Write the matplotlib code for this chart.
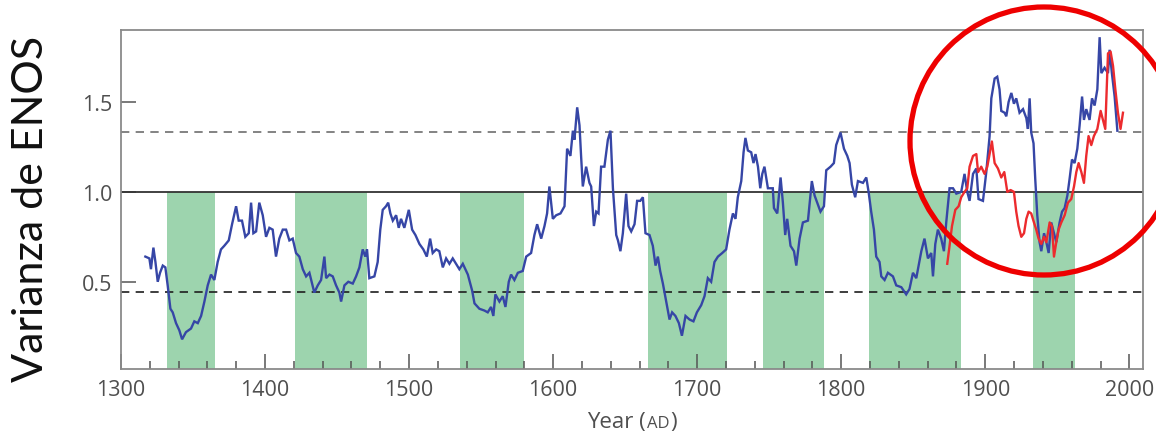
import matplotlib
matplotlib.use("Agg")
import matplotlib.pyplot as plt
import numpy as np
from matplotlib.patches import Ellipse
from matplotlib.offsetbox import TextArea, HPacker, AnchoredOffsetbox
from matplotlib.ticker import MultipleLocator

# ---------------- data ----------------
blue_years = [1316.9, 1319.7, 1320.8, 1322.5, 1323.9, 1325.5, 1327.1, 1329.0, 1330.8, 1332.4,
              1334.3, 1335.9, 1338.2, 1340.5, 1342.4, 1345.1, 1348.6, 1350.9, 1353.3, 1355.6,
              1357.9, 1360.2, 1362.5, 1364.8, 1367.1, 1369.4, 1371.7, 1374.8, 1377.1, 1379.9,
              1381.7, 1384.0, 1386.3, 1388.7, 1390.3, 1391.9, 1393.8, 1396.0, 1398.4, 1400.7,
              1403.0, 1405.3, 1407.6, 1409.9, 1412.3, 1414.6, 1416.9, 1419.2, 1421.5, 1423.8,
              1426.2, 1428.5, 1430.8, 1434.2, 1436.6, 1438.9, 1441.2, 1442.4, 1444.7, 1447.0,
              1449.3, 1451.6, 1452.8, 1455.1, 1457.8, 1460.9, 1463.2, 1465.5, 1467.8, 1469.6,
              1470.8, 1472.4, 1475.9, 1478.2, 1480.0, 1481.7, 1484.0, 1485.5, 1487.0, 1488.7,
              1491.0, 1492.8, 1494.4, 1496.7, 1499.8, 1502.1, 1504.4, 1507.2, 1509.9, 1512.3,
              1514.6, 1516.4, 1518.8, 1521.0, 1523.4, 1525.7, 1528.0, 1530.3, 1532.6, 1534.9,
              1537.3, 1540.8, 1543.8, 1545.4, 1548.8, 1552.3, 1554.6, 1556.9, 1558.5, 1559.9,
              1562.7, 1565.0, 1566.9, 1569.2, 1570.8, 1573.1, 1575.5, 1578.9, 1581.3, 1584.7,
              1587.0, 1588.9, 1591.7, 1594.0, 1595.8, 1597.4, 1599.8, 1602.1, 1605.1, 1607.9,
              1609.7, 1612.0, 1613.7, 1614.8, 1616.7, 1618.3, 1619.4, 1620.6, 1622.9, 1625.2,
              1626.4, 1628.3, 1629.9, 1631.5, 1633.3, 1635.6, 1638.0, 1639.8, 1641.5, 1643.8,
              1645.0, 1646.7, 1648.4, 1650.7, 1652.3, 1654.2, 1656.5, 1658.3, 1660.5, 1662.3,
              1664.1, 1666.9, 1669.2, 1671.1, 1672.7, 1674.3, 1676.2, 1678.5, 1680.8, 1682.6,
              1684.9, 1687.3, 1689.4, 1691.9, 1694.7, 1697.4, 1699.8, 1702.8, 1705.1, 1707.4,
              1709.7, 1712.0, 1714.4, 1717.4, 1720.1, 1722.4, 1724.8, 1726.6, 1728.2, 1730.6,
              1732.2, 1733.5, 1735.2, 1737.5, 1739.1, 1740.5, 1742.2, 1743.8, 1745.2, 1746.7,
              1749.1, 1752.5, 1753.3, 1755.6, 1757.9, 1759.5, 1761.1, 1762.5, 1764.8, 1767.2,
              1768.8, 1771.1, 1773.4, 1776.9, 1779.6, 1781.5, 1783.8, 1785.6, 1788.0, 1789.6,
              1792.6, 1794.9, 1796.5, 1799.5, 1801.9, 1804.2, 1805.8, 1807.4, 1809.7, 1811.6,
              1815.1, 1817.4, 1819.0, 1820.8, 1822.7, 1824.3, 1826.6, 1827.8, 1830.1, 1832.4,
              1835.9, 1838.2, 1841.7, 1845.1, 1847.4, 1849.8, 1852.1, 1855.6, 1857.8, 1860.2,
              1862.5, 1863.7, 1865.3, 1867.1, 1869.4, 1871.3, 1872.9, 1875.2, 1877.6, 1879.9,
              1883.3, 1885.6, 1887.5, 1889.1, 1891.5, 1893.8, 1895.3, 1898.4, 1900.7, 1903.0,
              1904.2, 1906.5, 1908.3, 1909.9, 1911.1, 1913.4, 1914.6, 1916.2, 1918.1, 1919.9,
              1921.5, 1923.8, 1926.2, 1928.5, 1929.6, 1930.8, 1931.9, 1933.5, 1934.7, 1936.1,
              1937.7, 1938.9, 1940.8, 1942.4, 1944.0, 1945.8, 1947.7, 1949.3, 1951.6, 1953.3,
              1955.1, 1957.0, 1958.5, 1960.2, 1962.0, 1963.9, 1965.5, 1967.2, 1968.5, 1970.1,
              1972.4, 1974.1, 1975.9, 1977.8, 1979.4, 1980.6, 1982.8, 1985.2, 1986.3, 1987.9,
              1989.8, 1991.7]
blue_values = [0.64, 0.63, 0.57, 0.69, 0.61, 0.50, 0.55, 0.59, 0.58, 0.48,
               0.35, 0.33, 0.27, 0.23, 0.18, 0.22, 0.24, 0.28, 0.27, 0.31,
               0.39, 0.48, 0.54, 0.51, 0.61, 0.68, 0.70, 0.73, 0.82, 0.92,
               0.84, 0.84, 0.75, 0.77, 0.94, 0.77, 0.78, 0.94, 0.87, 0.75,
               0.80, 0.79, 0.64, 0.74, 0.79, 0.79, 0.73, 0.74, 0.66, 0.64,
               0.57, 0.53, 0.55, 0.44, 0.48, 0.51, 0.64, 0.52, 0.54, 0.53,
               0.48, 0.44, 0.39, 0.48, 0.50, 0.49, 0.53, 0.58, 0.68, 0.64,
               0.68, 0.52, 0.53, 0.61, 0.79, 0.90, 0.92, 0.94, 0.88, 0.84,
               0.87, 0.80, 0.85, 0.80, 0.90, 0.79, 0.76, 0.71, 0.68, 0.64,
               0.74, 0.66, 0.68, 0.67, 0.58, 0.63, 0.60, 0.63, 0.60, 0.57,
               0.60, 0.54, 0.45, 0.38, 0.35, 0.34, 0.33, 0.36, 0.31, 0.43,
               0.39, 0.42, 0.36, 0.50, 0.54, 0.51, 0.55, 0.56, 0.64, 0.66,
               0.76, 0.82, 0.74, 0.81, 0.88, 1.03, 0.85, 0.87, 0.88, 0.92,
               1.24, 1.20, 1.34, 1.29, 1.47, 1.37, 1.20, 1.03, 1.14, 1.05,
               1.03, 0.81, 0.89, 0.88, 1.14, 1.14, 1.29, 1.34, 1.02, 0.76,
               0.73, 0.67, 0.77, 0.99, 0.81, 0.78, 0.82, 0.95, 0.95, 0.97,
               0.77, 0.76, 0.70, 0.59, 0.64, 0.56, 0.49, 0.39, 0.29, 0.33,
               0.31, 0.27, 0.20, 0.31, 0.29, 0.28, 0.33, 0.37, 0.42, 0.52,
               0.50, 0.61, 0.64, 0.66, 0.68, 0.79, 0.88, 0.85, 0.97, 1.06,
               1.22, 1.30, 1.23, 1.22, 1.16, 1.21, 1.14, 1.02, 1.10, 1.14,
               1.02, 1.02, 0.91, 0.88, 1.08, 0.94, 0.76, 0.85, 0.70, 0.67,
               0.59, 0.74, 0.83, 0.84, 1.06, 0.98, 0.93, 0.89, 0.92, 1.12,
               1.14, 1.16, 1.26, 1.33, 1.24, 1.20, 1.16, 1.04, 0.97, 1.06,
               1.05, 1.08, 1.00, 0.89, 0.79, 0.64, 0.61, 0.53, 0.51, 0.55,
               0.53, 0.48, 0.47, 0.43, 0.46, 0.55, 0.52, 0.67, 0.74, 0.63,
               0.66, 0.53, 0.71, 0.79, 0.74, 0.67, 0.83, 1.02, 1.02, 0.99,
               1.00, 1.10, 1.00, 0.95, 1.10, 1.13, 0.96, 0.95, 1.11, 1.31,
               1.52, 1.63, 1.64, 1.57, 1.45, 1.44, 1.42, 1.50, 1.55, 1.49,
               1.52, 1.44, 1.46, 1.41, 1.35, 1.52, 1.33, 1.27, 1.07, 0.87,
               0.72, 0.67, 0.77, 0.72, 0.66, 0.83, 0.77, 0.72, 0.83, 0.89,
               0.91, 0.98, 1.07, 1.18, 1.16, 1.24, 1.37, 1.53, 1.40, 1.46,
               1.40, 1.52, 1.48, 1.57, 1.86, 1.66, 1.69, 1.66, 1.79, 1.66,
               1.53, 1.34]

red_years = [1873.6, 1875.2, 1876.9, 1879.2, 1881.5, 1883.3, 1885.6, 1887.5, 1889.1, 1891.5,
             1893.8, 1895.0, 1897.2, 1899.5, 1901.4, 1903.0, 1904.6, 1906.5, 1908.8, 1911.1,
             1913.2, 1915.3, 1917.6, 1919.9, 1921.5, 1923.1, 1925.0, 1926.9, 1928.5, 1930.1,
             1931.9, 1933.8, 1935.4, 1937.0, 1938.9, 1940.8, 1942.4, 1944.7, 1946.3, 1947.7,
             1949.3, 1950.9, 1952.8, 1955.1, 1957.4, 1959.7, 1961.6, 1963.2, 1964.8, 1966.7,
             1968.5, 1970.1, 1971.7, 1973.6, 1975.4, 1977.8, 1980.1, 1981.7, 1983.3, 1985.2,
             1987.0, 1988.7, 1990.3, 1992.1, 1993.9, 1995.6]
red_values = [0.60, 0.70, 0.81, 0.90, 0.92, 0.97, 1.00, 1.02, 1.14, 1.20,
              1.21, 1.11, 1.14, 1.10, 1.14, 1.21, 1.28, 1.16, 1.13, 1.08,
              1.11, 1.00, 1.01, 1.00, 0.89, 0.81, 0.75, 0.77, 0.85, 0.89,
              0.88, 0.83, 0.79, 0.74, 0.71, 0.75, 0.72, 0.83, 0.81, 0.64,
              0.72, 0.79, 0.83, 0.87, 0.94, 0.96, 1.03, 1.11, 1.16, 1.11,
              1.05, 1.20, 1.31, 1.26, 1.31, 1.35, 1.45, 1.40, 1.35, 1.77,
              1.78, 1.70, 1.57, 1.44, 1.35, 1.44]

# shaded low-variance periods (start, end years)
span_starts = [1332, 1421, 1535, 1666, 1746, 1819, 1933]
span_ends = [1365, 1471, 1580, 1721, 1788, 1883, 1962]

mean_level = 1.0
upper_level = 1.333
lower_level = 0.441

x_tick_values = [1300, 1400, 1500, 1600, 1700, 1800, 1900, 2000]
y_tick_values = [0.5, 1.0, 1.5]
y_tick_labels = ["0.5", "1.0", "1.5"]

# ---------------- figure ----------------
W, H = 1156, 439
fig = plt.figure(figsize=(W / 100, H / 100), dpi=100)
ax = fig.add_axes([121 / W, 1 - 370 / H, (1143 - 121) / W, (370 - 31) / H])

xmin, xmax = 1300, 2009.5
ymin, ymax = 0.015, 1.9
ax.set_xlim(xmin, xmax)
ax.set_ylim(ymin, ymax)

green = "#9dd4ae"
for a, b in zip(span_starts, span_ends):
    ax.fill_between([a, b], ymin, mean_level, color=green, lw=0, zorder=1)

ax.axhline(mean_level, color="#333333", lw=1.3, zorder=2)
ax.axhline(upper_level, color="#6e6e6e", lw=1.2, ls=(0, (5.0, 3.8)), zorder=2)
ax.axhline(lower_level, color="#1e1e1e", lw=1.2, ls=(0, (5.0, 3.8)), zorder=2)

ax.plot(blue_years, blue_values, color="#3646a6", lw=1.7, zorder=3, solid_joinstyle="miter")
ax.plot(red_years, red_values, color="#ec2b2e", lw=1.7, zorder=4)

# spines / ticks
for s in ax.spines.values():
    s.set_color("#8a8a8a")
    s.set_linewidth(1.3)

tick_font = {"family": "Open Sans", "size": 15.5, "color": "#4f4f4f"}
ax.set_xticks(x_tick_values)
ax.set_xticklabels([str(v) for v in x_tick_values], fontdict=tick_font)
ax.xaxis.set_minor_locator(MultipleLocator(20))
ax.set_yticks(y_tick_values)
ax.set_yticklabels(y_tick_labels, fontdict=tick_font)
ax.tick_params(axis="x", which="major", direction="in", length=11, width=1.1,
               color="#555555", pad=7)
ax.tick_params(axis="x", which="minor", direction="in", length=6, width=1.1,
               color="#555555")
ax.tick_params(axis="y", which="major", direction="in", length=11, width=1.1,
               color="#555555", pad=6)

# x label with small-caps "AD"
parts = [TextArea("Year (", textprops=dict(family="Open Sans", size=16, color="#4f4f4f")),
         TextArea("AD", textprops=dict(family="Open Sans", size=12, color="#4f4f4f")),
         TextArea(")", textprops=dict(family="Open Sans", size=16, color="#4f4f4f"))]
box = HPacker(children=parts, align="baseline", pad=0, sep=1)
anch = AnchoredOffsetbox(loc="center", child=box, pad=0, frameon=False, borderpad=0,
                         bbox_to_anchor=(632 / W, 1 - 423 / H),
                         bbox_transform=fig.transFigure)
fig.add_artist(anch)

# y label
fig.text(31 / W, 1 - 209 / H, "Varianza de ENOS", rotation=90, ha="center", va="center",
         family="Lato", size=31, color="#111111")

# red highlight circle
circ = Ellipse((1044 / W, 1 - 142 / H), 268 / W, 268 / H, transform=fig.transFigure,
               fill=False, edgecolor="#ee0000", lw=3.8, clip_on=False, zorder=10)
fig.add_artist(circ)

fig.savefig("out.png", dpi=100)
